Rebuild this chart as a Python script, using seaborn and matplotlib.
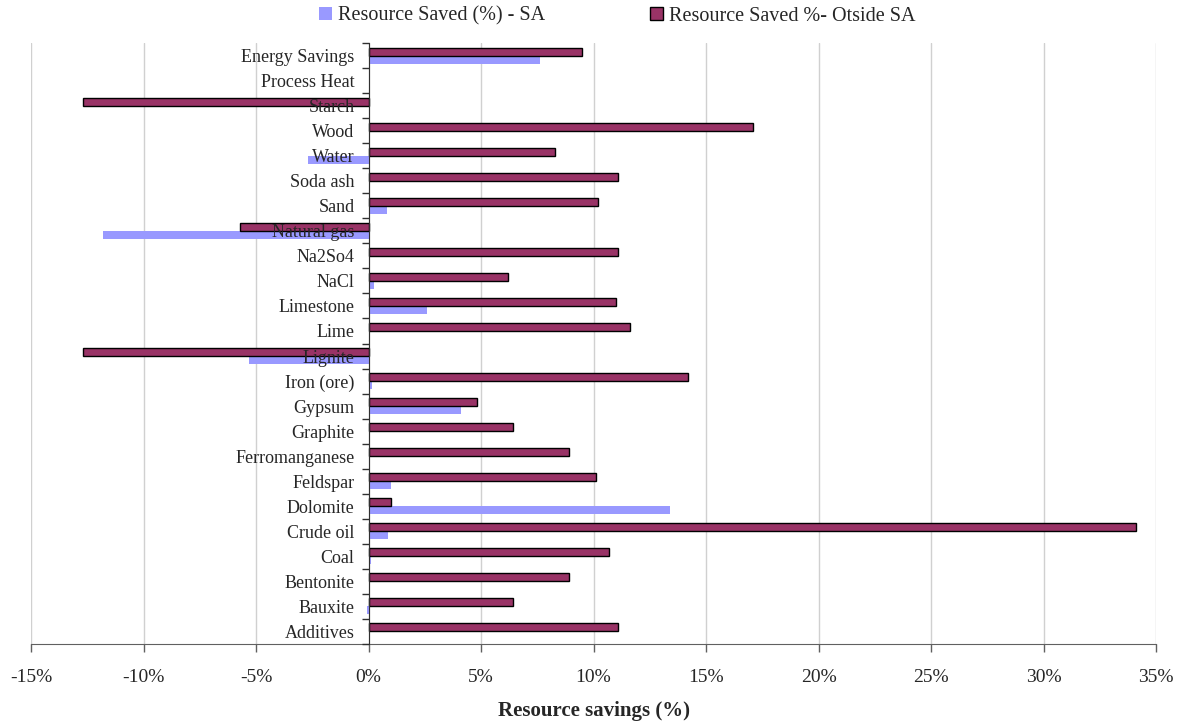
import numpy as np
import pandas as pd
import matplotlib
matplotlib.use("Agg")
import matplotlib.pyplot as plt
from matplotlib.patches import Patch
from matplotlib.ticker import FuncFormatter, FixedLocator
import seaborn as sns

# Resources, listed from the top of the chart downwards
categories = ["Energy Savings", "Process Heat", "Starch", "Wood", "Water", "Soda ash",
              "Sand", "Natural gas", "Na2So4", "NaCl", "Limestone", "Lime", "Lignite",
              "Iron (ore)", "Gypsum", "Graphite", "Ferromanganese", "Feldspar",
              "Dolomite", "Crude oil", "Coal", "Bentonite", "Bauxite", "Additives"]

# Resource saved, in percent
saved_outside_sa = [9.5, 0.0, -12.7, 17.1, 8.3, 11.1, 10.2, -5.7, 11.1, 6.2, 11.0, 11.6,
                    -12.7, 14.2, 4.8, 6.4, 8.9, 10.1, 1.0, 34.1, 10.7, 8.9, 6.4, 11.1]
saved_sa = [7.6, 0.0, 0.0, 0.0, -2.7, 0.0, 0.8, -11.8, 0.0, 0.25, 2.6, 0.0,
            -5.3, 0.15, 4.1, 0.0, 0.0, 1.0, 13.4, 0.85, 0.1, 0.0, -0.05, 0.0]

label_sa = "Resource Saved (%) - SA"
label_out = "Resource Saved %- Otside SA"
x_ticks = [-15, -10, -5, 0, 5, 10, 15, 20, 25, 30, 35]

df = pd.DataFrame({
    "category": categories * 2,
    "value": saved_outside_sa + saved_sa,
    "series": [label_out] * len(categories) + [label_sa] * len(categories),
})

sns.set_style("white")
plt.rcParams["font.family"] = ["Liberation Serif", "DejaVu Serif"]

col_sa = "#9999FF"
col_out = "#993366"

fig = plt.figure(figsize=(11.89, 7.25), dpi=100)
ax = fig.add_axes([31 / 1189, 1 - 644 / 725, (1156 - 31) / 1189, (644 - 43) / 725])

sns.barplot(data=df, x="value", y="category", hue="series", order=categories,
            hue_order=[label_out, label_sa], palette=[col_out, col_sa],
            orient="h", width=0.64, saturation=1, legend=False, ax=ax)

for bar, v in zip(ax.containers[0], saved_outside_sa):
    bar.set_edgecolor("black" if v != 0 else "none")
    bar.set_linewidth(1.0)
    bar.set_zorder(2)
for bar in ax.containers[1]:
    bar.set_edgecolor("none")
    bar.set_zorder(1.9)

ax.set_xlim(x_ticks[0], x_ticks[-1])
ax.set_ylim(len(categories) - 0.5, -0.5)
ax.xaxis.set_major_locator(FixedLocator(x_ticks))
ax.xaxis.set_major_formatter(FuncFormatter(lambda v, _: f"{v:.0f}%"))

# vertical gridlines kept under the bars
for t in x_ticks:
    ax.axvline(t, color="#d0d0d0", linewidth=1.0, zorder=0)
ax.grid(False)
ax.set_axisbelow(False)

for side in ["top", "right"]:
    ax.spines[side].set_visible(False)
ax.spines["left"].set_position(("data", 0))
ax.spines["left"].set_color("#303030")
ax.spines["bottom"].set_color("#606060")
ax.spines["left"].set_zorder(3)

ax.yaxis.set_minor_locator(FixedLocator(np.arange(-0.5, len(categories), 1)))
ax.tick_params(axis="y", which="major", length=0, pad=10, labelsize=13)
ax.tick_params(axis="y", which="minor", left=True, length=5, width=1.0,
               direction="out", color="#303030")
ax.tick_params(axis="x", which="major", bottom=True, length=6, width=1.0,
               direction="out", color="#606060", labelsize=14, pad=12)

ax.set_ylabel("")
ax.set_xlabel("Resource savings (%)", fontsize=15, fontweight="bold", labelpad=11)

handles = [Patch(facecolor=col_sa, edgecolor="none"),
           Patch(facecolor=col_out, edgecolor="black", linewidth=1.0)]
fig.legend(handles, [label_sa, label_out], loc="center",
           bbox_to_anchor=(617 / 1189, 1 - 16 / 725), ncol=2, frameon=False,
           fontsize=14.5, handlelength=0.65, handleheight=0.65, handletextpad=0.3,
           columnspacing=5.2)

fig.savefig("out.png", dpi=100)
